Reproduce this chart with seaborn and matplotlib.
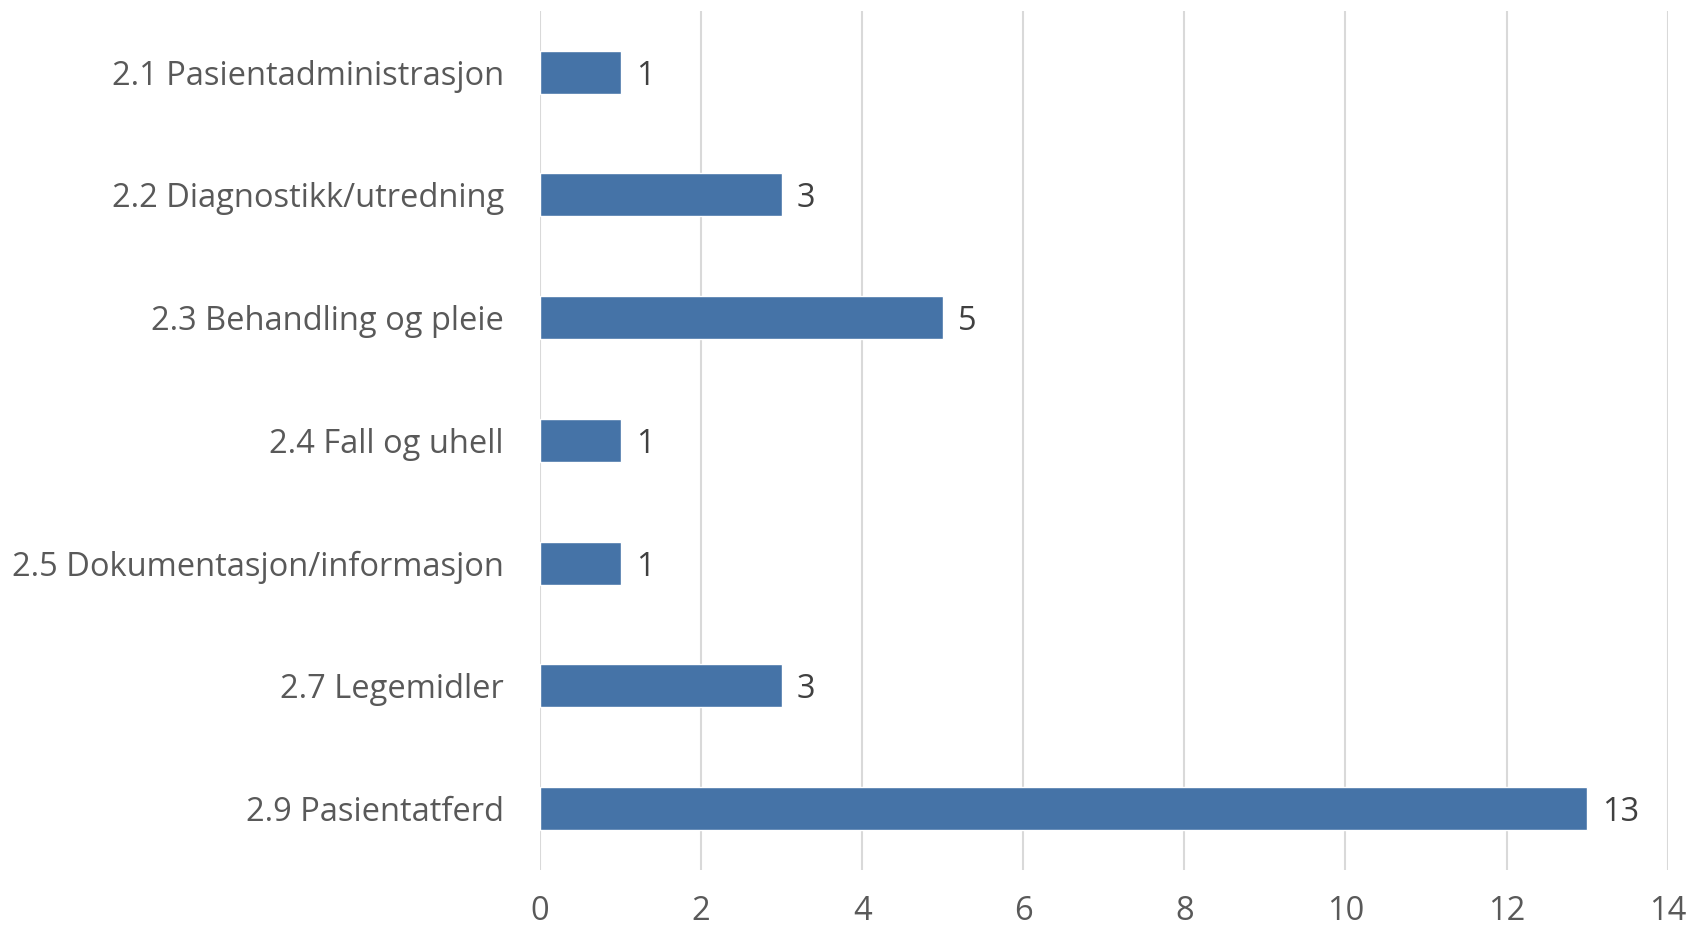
import matplotlib
matplotlib.use("Agg")
import matplotlib.pyplot as plt
import seaborn as sns
import pandas as pd

categories = ["2.1 Pasientadministrasjon", "2.2 Diagnostikk/utredning", "2.3 Behandling og pleie",
              "2.4 Fall og uhell", "2.5 Dokumentasjon/informasjon", "2.7 Legemidler", "2.9 Pasientatferd"]
counts = [1, 3, 5, 1, 1, 3, 13]
xticks = [0, 2, 4, 6, 8, 10, 12, 14]

sns.set_style("white")
plt.rcParams['font.family'] = ['Open Sans', 'DejaVu Sans']

df = pd.DataFrame({"kategori": categories, "antall": counts})

fig = plt.figure(figsize=(16.93, 9.32), dpi=100)
ax = fig.add_axes([0.319, 0.0665, 0.666, 0.922])

sns.barplot(data=df, x="antall", y="kategori", orient="h", color="#4573a7",
            saturation=1, width=0.35, ax=ax)

# verdier til høyre for stolpene
for i, v in enumerate(counts):
    ax.annotate(str(v), (v, i), xytext=(11, 0), textcoords="offset points",
                va="center_baseline", ha="left", fontsize=23.5, color="#404040")

ax.set_xlim(0, 14)
ax.set_xticks(xticks)
ax.set_xticklabels([str(t) for t in xticks])
ax.set_ylim(6.5, -0.5)
ax.grid(axis="x", color="#d9d9d9", linewidth=1.5)
ax.set_axisbelow(True)
for s in ax.spines.values():
    s.set_visible(False)
ax.set_xlabel("")
ax.set_ylabel("")
ax.tick_params(axis="both", length=0, labelsize=23.5, labelcolor="#595959")
ax.tick_params(axis="x", pad=18)
ax.tick_params(axis="y", pad=26)

fig.savefig("out.png", dpi=100)
